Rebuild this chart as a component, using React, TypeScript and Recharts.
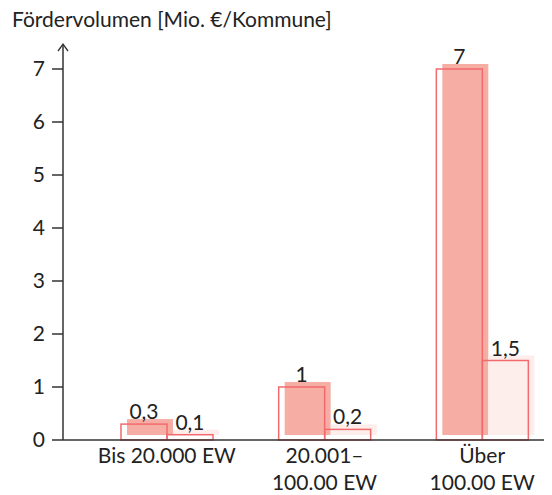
import { BarChart, Bar, XAxis, YAxis, LabelList, Label } from "recharts";

const categories = ["Bis 20.000 EW", "20.001–\n100.00 EW", "Über\n100.00 EW"];
const seriesFilled = [0.3, 1, 7];
const seriesLight = [0.1, 0.2, 1.5];
const yTicks = [0, 1, 2, 3, 4, 5, 6, 7];

const data = categories.map((name, i) => ({
  name,
  a: seriesFilled[i],
  b: seriesLight[i],
}));

const FONT = "Lato, 'Noto Sans', sans-serif";
const FS = 21;
const STROKE = "#f26a6e";
const AXIS = "#333";

const shadowBar = (fill: string) => (props: any) => {
  const { x, y, width, height } = props;
  return (
    <g>
      <rect x={x + 6} y={y - 5} width={width} height={height} fill={fill} />
      <rect x={x} y={y} width={width} height={height} fill="none" stroke={STROKE} strokeWidth={1.5} />
    </g>
  );
};

const CategoryTick = (props: any) => {
  const { x, y, payload } = props;
  const lines = String(payload.value).split("\n");
  return (
    <text x={x} y={y} textAnchor="middle" fill="#222" fontSize={FS} fontFamily={FONT}>
      {lines.map((l, i) => (
        <tspan key={i} x={x} dy={i === 0 ? 23 : 26.5}>
          {l}
        </tspan>
      ))}
    </text>
  );
};

const AxisArrow = (props: any) => {
  const vb = props.viewBox || {};
  const tx = vb.x + vb.width;
  const ty = vb.y;
  return (
    <path
      d={`M${tx - 5},${ty + 7} L${tx},${ty} L${tx + 5},${ty + 7}`}
      fill="none"
      stroke={AXIS}
      strokeWidth={1.3}
    />
  );
};

const fmt = (v: any) => String(v).replace(".", ",");

export default function App() {
  return (
    <div style={{ position: "relative", width: 544, height: 487, fontFamily: FONT }}>
      <div
        style={{
          position: "absolute",
          left: 4,
          top: -2,
          fontSize: FS,
          lineHeight: 1.2,
          color: "#222",
          whiteSpace: "nowrap",
        }}
      >
        Fördervolumen [Mio. €/Kommune]
      </div>
      <BarChart
        width={544}
        height={487}
        data={data}
        margin={{ top: 36, right: 7, bottom: 0, left: 0 }}
        barSize={46}
        barGap={0}
      >
        <XAxis
          dataKey="name"
          interval={0}
          tickLine={false}
          tickSize={0}
          tickMargin={0}
          height={55}
          padding={{ left: 25, right: -16 }}
          axisLine={{ stroke: AXIS, strokeWidth: 1.5 }}
          tick={<CategoryTick />}
        />
        <YAxis
          type="number"
          domain={[0, 7]}
          ticks={yTicks}
          width={55}
          padding={{ top: 25, bottom: 0 }}
          tickSize={11}
          tickMargin={7}
          axisLine={{ stroke: AXIS, strokeWidth: 1.5 }}
          tickLine={{ stroke: AXIS, strokeWidth: 1.5 }}
          tick={{ fill: "#222", fontSize: FS, fontFamily: FONT }}
        >
          <Label content={<AxisArrow />} />
        </YAxis>
        <Bar dataKey="a" isAnimationActive={false} shape={shadowBar("#f5ada4")}>
          <LabelList
            dataKey="a"
            position="top"
            offset={5}
            formatter={fmt}
            style={{ fill: "#222", fontSize: FS, fontFamily: FONT }}
          />
        </Bar>
        <Bar dataKey="b" isAnimationActive={false} shape={shadowBar("#fdeeeb")}>
          <LabelList
            dataKey="b"
            position="top"
            offset={5}
            formatter={fmt}
            style={{ fill: "#222", fontSize: FS, fontFamily: FONT }}
          />
        </Bar>
      </BarChart>
    </div>
  );
}
